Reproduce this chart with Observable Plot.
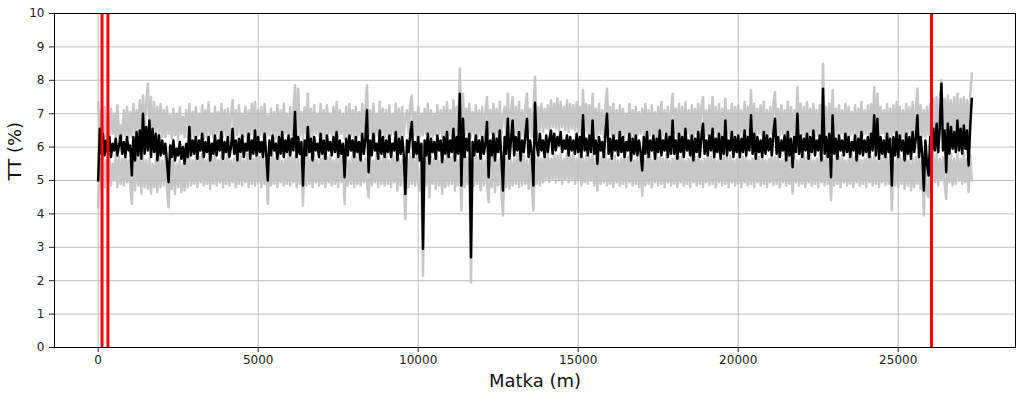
<!DOCTYPE html>
<html>
<head>
<meta charset="utf-8">
<script src="https://cdn.jsdelivr.net/npm/d3@7"></script>
<script src="https://cdn.jsdelivr.net/npm/@observablehq/plot@0.6"></script>
<style>
  html, body { margin: 0; padding: 0; background: #fff; }
  #chart { width: 1024px; height: 393px; }
</style>
</head>
<body>
<div id="chart"></div>
<script>
// sampling interval along the track (m)
const step = 50;

// black line: mean TT (%)
const ttMean = [
5.0,6.55,5.8,6.4,5.75,6.2,5.85,6.3,5.7,6.1,5.9,6.25,5.75,6.05,6.35,5.8,6.15,5.7,6.3,5.9,
6.05,5.15,6.3,5.6,6.45,5.75,6.5,5.65,7.0,5.8,6.6,5.9,6.8,5.7,6.55,5.85,6.4,5.6,6.35,5.75,
6.2,5.8,6.1,5.55,4.95,6.05,5.7,6.2,5.6,5.95,5.75,6.15,5.65,6.0,5.5,6.1,5.7,6.6,5.75,6.2,
5.8,6.3,5.65,6.2,5.9,6.4,5.7,6.15,5.85,6.3,5.6,6.1,5.8,6.35,5.75,6.2,5.9,6.45,5.65,6.15,
5.85,6.3,5.7,6.0,6.55,5.8,6.2,5.6,6.25,5.85,6.35,5.7,6.1,5.9,6.4,5.65,6.2,5.8,6.5,5.75,
6.3,5.85,6.15,5.7,6.4,5.8,5.0,6.2,5.75,6.35,5.9,6.1,5.65,6.3,5.8,6.45,5.7,6.2,5.85,6.35,
5.75,6.25,5.9,7.05,5.7,6.3,5.8,6.15,4.85,6.2,5.75,6.6,5.85,6.25,5.6,6.3,5.9,6.1,5.7,6.4,
5.8,6.2,5.65,6.35,5.9,6.15,5.75,6.3,5.85,6.45,5.7,6.2,5.8,6.1,5.1,6.25,5.75,6.35,5.9,6.2,
5.7,6.3,5.85,6.15,5.6,6.4,5.8,6.25,7.1,5.25,6.2,5.75,6.4,5.9,6.1,5.65,6.5,5.8,6.3,5.7,
6.2,5.85,6.35,5.7,6.1,5.9,6.45,5.6,6.25,5.8,6.3,5.75,4.6,6.2,5.85,6.35,6.75,5.7,6.15,5.8,
6.3,5.6,6.1,2.96,6.2,5.75,6.4,5.5,6.25,5.85,6.15,5.65,6.35,5.9,6.2,5.55,6.3,5.8,6.45,5.7,
6.2,5.85,6.55,5.6,6.3,5.8,7.6,4.85,6.85,5.7,6.25,5.9,6.4,2.7,6.15,5.75,6.35,5.85,6.2,5.65,
6.3,5.8,6.1,6.75,5.1,6.2,5.75,6.4,5.6,6.25,5.85,6.5,5.7,4.7,6.3,5.8,6.85,5.65,6.2,6.8,
5.75,6.3,5.9,6.45,5.6,6.2,5.85,6.35,6.85,5.7,6.2,5.8,4.85,7.33,6.1,5.75,6.4,5.9,6.2,5.7,
6.35,5.85,6.25,6.5,5.8,6.4,5.9,6.3,6.05,6.45,5.85,6.2,5.95,6.35,5.75,6.3,5.9,6.2,5.8,6.4,
5.85,6.3,5.7,6.95,5.9,6.25,5.75,6.35,5.85,6.8,5.8,6.2,5.5,6.3,5.9,6.15,5.7,6.4,7.0,5.8,
6.25,5.65,6.35,5.9,6.2,5.75,6.45,5.85,6.3,5.7,6.15,5.9,6.4,5.6,6.25,5.8,6.35,5.75,6.2,5.85,
5.3,6.3,5.8,6.45,5.7,6.2,5.9,6.35,5.65,6.25,5.85,6.5,5.75,6.2,5.9,6.4,5.7,6.3,5.8,6.8,
5.8,6.2,5.65,6.4,5.85,6.3,5.7,6.55,5.9,6.2,5.75,6.35,5.6,6.25,5.85,6.45,5.7,6.3,6.7,5.8,
6.2,5.75,6.35,5.9,6.55,5.7,6.25,5.85,6.4,5.65,6.3,5.8,6.8,5.75,6.2,5.9,6.45,5.7,6.3,5.85,
6.35,5.7,6.25,5.85,6.5,5.75,6.3,5.9,6.95,5.8,6.4,5.65,6.3,5.85,6.2,5.7,6.45,5.8,6.35,5.9,
6.25,5.75,6.4,6.85,5.8,6.3,5.7,6.2,5.9,6.35,5.6,6.45,5.75,6.25,5.4,6.3,5.85,7.0,5.8,6.35,
5.7,6.25,5.9,6.4,5.65,6.3,5.85,6.5,5.75,6.2,5.9,6.35,5.6,7.75,5.8,6.3,5.7,6.4,5.1,6.95,
5.8,6.25,5.65,6.35,5.9,6.2,5.75,6.4,5.85,6.3,5.7,6.15,5.9,6.35,5.6,6.25,5.8,6.45,5.75,6.2,
5.85,6.3,5.7,6.4,5.9,6.95,5.75,6.85,5.65,6.3,5.8,6.2,5.7,6.4,5.85,6.25,4.85,6.3,5.75,6.45,
5.7,6.35,5.9,6.2,5.6,6.4,5.8,6.3,5.65,6.45,5.85,6.25,6.95,5.7,6.3,5.8,4.7,6.2,5.5,5.15,
6.3,5.7,6.55,5.9,6.7,5.85,6.6,7.9,5.9,6.5,5.25,6.7,5.8,6.6,5.95,6.45,5.85,6.8,5.9,6.55,
5.8,6.65,5.95,6.5,5.45,6.6,7.45
];

// grey line: upper channel TT (%)
const ttUpper = [
7.35,6.35,7.1,6.25,7.2,6.3,6.9,6.3,7.15,6.4,7.0,6.25,7.25,6.3,6.65,6.3,7.1,6.35,7.2,6.3,
7.05,6.3,7.3,6.4,7.1,6.5,7.4,6.3,7.55,6.6,7.3,7.9,6.55,7.5,6.3,7.35,6.45,7.2,6.35,7.3,
6.3,7.1,6.3,7.2,6.4,6.95,6.25,7.15,6.35,7.0,6.2,7.2,6.4,6.9,6.3,7.1,6.3,7.3,6.35,7.05,
6.3,7.2,6.3,7.0,6.35,7.25,6.25,7.1,6.3,7.35,6.35,7.0,6.3,7.2,6.4,7.05,6.25,7.3,6.3,7.1,
6.35,7.15,6.3,7.0,7.4,6.3,7.1,6.35,7.25,6.4,7.0,6.3,7.2,6.3,7.1,6.35,7.3,6.4,7.35,6.3,
7.1,6.35,7.2,6.3,7.3,6.3,6.95,6.35,7.15,6.4,7.05,6.25,7.25,6.3,7.1,6.35,7.3,6.4,7.0,6.3,
7.2,6.35,7.1,7.85,6.3,7.75,6.35,7.05,6.25,7.2,6.4,7.6,6.3,7.15,6.3,7.25,6.4,7.0,6.35,7.3,
6.3,7.1,6.3,7.25,6.4,7.0,6.35,7.2,6.3,7.35,6.3,7.1,6.4,7.0,6.25,7.2,6.3,7.3,6.35,7.1,
6.3,7.2,6.3,7.05,6.35,7.3,6.4,7.15,7.85,6.35,7.1,6.3,7.3,6.3,7.0,6.35,7.35,6.4,7.15,6.3,
7.1,6.3,7.25,6.35,7.0,6.4,7.3,6.3,7.15,6.3,7.2,6.35,6.9,7.1,6.4,7.25,7.55,6.35,7.05,6.3,
7.2,6.3,7.0,6.35,7.15,6.4,7.3,6.25,7.1,6.3,7.0,6.35,7.25,6.4,7.1,6.3,7.2,6.3,7.35,6.35,
7.1,6.3,7.4,6.35,7.2,6.3,8.35,6.4,7.6,6.35,7.15,6.3,7.3,6.3,7.05,6.4,7.25,6.3,7.1,6.35,
7.2,6.3,7.05,7.5,6.35,7.1,6.4,7.3,6.3,7.15,6.3,7.35,6.35,6.95,7.2,6.3,7.6,6.35,7.1,7.5,
6.3,7.2,6.4,7.35,6.35,7.1,6.3,7.25,7.6,6.4,7.15,6.3,7.0,8.1,6.3,7.2,6.5,7.3,6.45,7.15,
6.55,7.25,6.5,7.4,6.6,7.3,6.55,7.45,6.5,7.35,6.6,7.2,6.5,7.4,6.45,7.3,6.55,7.25,6.5,7.35,
6.45,7.2,6.3,7.7,6.45,7.3,6.4,7.25,6.3,7.6,6.35,7.15,6.3,7.3,6.4,7.1,6.3,7.25,7.75,6.4,
7.2,6.35,7.3,6.3,7.1,6.3,7.25,6.4,7.15,6.3,7.0,6.35,7.3,6.3,7.1,6.3,7.2,6.35,7.05,6.4,
7.15,6.3,7.3,6.3,7.1,6.35,7.25,6.4,7.05,6.3,7.2,6.3,7.35,6.35,7.1,6.4,7.2,6.3,7.05,7.6,
6.4,7.15,6.3,7.3,6.3,7.2,6.35,7.35,6.4,7.1,6.3,7.25,6.3,7.15,6.4,7.3,6.35,7.2,7.5,6.3,
7.1,6.35,7.25,6.3,7.5,6.4,7.2,6.3,7.3,6.3,7.15,6.35,7.45,6.4,7.1,6.3,7.3,6.35,7.2,6.4,
7.25,6.35,7.1,6.3,7.35,6.35,7.2,6.4,7.7,6.3,7.3,6.3,7.15,6.4,7.25,6.35,7.35,6.3,7.1,6.35,
7.2,6.4,7.3,7.65,6.3,7.15,6.35,7.25,6.4,7.1,6.3,7.35,6.3,7.2,6.35,7.1,6.3,7.8,6.4,7.3,
6.35,7.2,6.3,7.35,6.3,7.15,6.4,7.3,6.3,7.1,6.35,7.25,6.4,8.5,6.3,7.2,6.35,7.3,6.4,7.7,
6.3,7.15,6.35,7.25,6.4,7.1,6.3,7.3,6.3,7.2,6.35,7.05,6.4,7.25,6.3,7.15,6.3,7.35,6.35,7.1,
6.4,7.25,6.35,7.3,6.3,7.8,6.4,7.6,6.35,7.2,6.4,7.1,6.3,7.3,6.3,7.15,6.35,7.25,6.4,7.35,
6.35,7.2,6.3,7.1,6.3,7.3,6.4,7.2,6.35,7.35,6.3,7.15,7.75,6.35,7.25,6.3,7.1,6.3,7.2,6.35,
7.3,6.45,7.45,6.5,7.5,6.45,7.4,8.0,6.5,7.45,6.4,7.55,6.5,7.4,6.45,7.5,6.5,7.6,6.45,7.45,
6.5,7.5,6.45,7.4,6.4,7.55,8.2
];

// grey line: lower channel TT (%)
const ttLower = [
4.2,5.65,4.9,5.8,4.8,5.6,4.95,5.75,4.85,5.5,5.0,5.8,4.8,5.7,4.9,5.65,4.85,5.8,4.95,5.6,
4.85,4.3,5.65,4.7,5.8,4.85,5.7,4.6,5.75,4.8,5.6,4.75,5.65,4.6,5.5,4.8,5.65,4.65,5.7,4.8,
5.6,4.85,5.75,4.7,4.2,5.65,4.75,5.6,4.6,5.5,4.8,5.65,4.65,5.5,4.7,5.7,4.8,5.8,4.85,5.6,
4.9,5.75,4.8,5.7,4.95,5.8,4.85,5.6,4.9,5.65,4.75,5.7,4.9,5.8,4.85,5.6,4.95,5.75,4.8,5.65,
4.9,5.8,4.85,5.6,4.95,5.65,4.8,5.7,4.9,5.75,4.85,5.6,4.95,5.8,4.8,5.7,4.9,5.65,4.85,5.8,
4.95,5.7,4.8,5.75,4.9,5.6,4.3,5.65,4.85,5.8,4.9,5.7,4.8,5.75,4.95,5.6,4.85,5.65,4.9,5.8,
4.85,5.7,4.95,5.75,4.8,5.65,4.9,5.6,4.25,5.65,4.85,5.8,4.9,5.7,4.8,5.75,4.95,5.6,4.85,5.65,
4.9,5.8,4.8,5.7,4.95,5.75,4.85,5.6,4.9,5.65,4.8,5.8,4.95,5.7,4.3,5.65,4.85,5.6,4.9,5.75,
4.8,5.7,4.9,5.8,4.85,5.6,4.95,5.65,4.9,4.5,5.75,4.85,5.6,4.95,5.8,4.8,5.7,4.9,5.65,4.85,
5.8,4.9,5.6,4.8,5.75,4.95,5.7,4.7,5.65,4.85,5.6,4.9,3.85,5.65,4.8,5.8,4.9,5.7,4.85,5.75,
4.9,4.7,5.7,2.15,5.65,4.85,5.8,4.5,5.7,4.9,5.65,4.75,5.75,4.85,5.6,4.6,5.65,4.8,5.8,4.85,
5.7,4.9,5.75,4.7,5.6,4.85,5.65,4.1,5.8,4.8,5.7,4.9,5.65,1.95,5.6,4.85,5.75,4.9,5.7,4.7,
5.65,4.85,5.6,4.9,4.35,5.7,4.8,5.75,4.65,5.6,4.85,5.65,4.7,3.95,5.7,4.8,5.75,4.75,5.6,4.85,
5.65,4.9,5.8,4.8,5.7,4.85,5.75,4.9,5.6,4.75,5.65,4.85,4.1,5.7,4.9,5.8,4.85,5.65,4.95,5.7,
5.0,5.8,4.95,5.65,5.05,5.8,4.95,5.75,5.0,5.8,4.9,5.65,5.05,5.8,4.95,5.75,5.0,5.8,4.9,5.65,
5.0,5.8,4.85,5.65,4.95,5.75,4.9,5.7,5.0,5.8,4.85,5.65,4.7,5.75,4.9,5.7,4.95,5.8,4.85,5.65,
4.9,5.7,4.8,5.75,4.95,5.6,4.85,5.65,4.9,5.8,4.8,5.7,4.95,5.75,4.85,5.6,4.9,5.65,4.8,5.8,
4.55,5.65,4.85,5.7,4.9,5.75,4.8,5.6,4.95,5.8,4.85,5.7,4.9,5.65,4.8,5.75,4.95,5.6,4.85,5.65,
4.9,5.8,4.8,5.7,4.95,5.75,4.85,5.6,4.9,5.65,4.8,5.8,4.95,5.7,4.85,5.75,4.9,5.6,4.8,5.65,
4.95,5.8,4.85,5.7,4.9,5.75,4.8,5.6,4.95,5.65,4.85,5.8,4.9,5.7,4.8,5.75,4.95,5.6,4.85,5.65,
4.9,5.8,4.8,5.7,4.95,5.75,4.85,5.6,4.9,5.65,4.8,5.8,4.95,5.7,4.85,5.75,4.9,5.6,4.8,5.65,
4.95,5.8,4.85,5.7,4.9,5.75,4.8,5.6,4.95,5.65,4.85,5.8,4.9,5.7,4.6,5.75,4.95,5.6,4.85,5.65,
4.9,5.8,4.8,5.7,4.95,5.75,4.85,5.6,4.9,5.65,4.8,5.8,4.95,5.7,4.85,5.75,4.9,5.6,4.4,5.65,
4.85,5.8,4.9,5.7,4.8,5.75,4.95,5.6,4.85,5.65,4.9,5.8,4.8,5.7,4.95,5.75,4.85,5.6,4.9,5.65,
4.8,5.8,4.95,5.7,4.85,5.75,4.9,5.6,4.8,5.65,4.95,5.8,4.85,5.7,4.9,5.75,4.1,5.6,4.85,5.65,
4.8,5.75,4.9,5.7,4.75,5.8,4.85,5.6,4.7,5.65,4.8,5.7,4.9,5.75,4.75,5.6,3.95,5.65,4.6,4.5,
5.6,4.9,5.75,4.95,5.8,4.85,5.65,5.0,5.7,4.9,4.45,5.75,4.95,5.8,4.85,5.65,4.9,5.8,5.0,5.65,
4.9,5.8,4.95,5.65,4.65,5.75,5.0
];

// red vertical markers (m)
const redMarks = [120, 305, 26040];

// tick values
const xTicks = [0, 5000, 10000, 15000, 20000, 25000];
const yTicks = [0, 1, 2, 3, 4, 5, 6, 7, 8, 9, 10];

const xLabel = "Matka (m)";
const yLabel = "TT (%)";

const toRows = arr => arr.map((v, i) => ({ m: i * step, tt: v }));
const meanRows = toRows(ttMean);
const upperRows = toRows(ttUpper);
const lowerRows = toRows(ttLower);

const chart = Plot.plot({
  width: 1024,
  height: 393,
  marginLeft: 54,
  marginRight: 9,
  marginTop: 13,
  marginBottom: 46,
  style: { fontFamily: "DejaVu Sans, sans-serif", background: "#fff", color: "#222" },
  x: { domain: [-1365, 28665] },
  y: { domain: [0, 10] },
  marks: [
    Plot.gridX(xTicks, { stroke: "#b0b0b0", strokeOpacity: 0.8, strokeWidth: 1 }),
    Plot.gridY(yTicks, { stroke: "#b0b0b0", strokeOpacity: 0.8, strokeWidth: 1 }),
    Plot.line(upperRows, { x: "m", y: "tt", stroke: "#bdbdbd", strokeOpacity: 0.85, strokeWidth: 2.5 }),
    Plot.line(lowerRows, { x: "m", y: "tt", stroke: "#bdbdbd", strokeOpacity: 0.85, strokeWidth: 2.5 }),
    Plot.line(meanRows, { x: "m", y: "tt", stroke: "#000", strokeWidth: 2.5 }),
    Plot.ruleX(redMarks, { stroke: "#ff0000", strokeWidth: 3 }),
    Plot.frame({ stroke: "#000", strokeWidth: 1 }),
    Plot.axisX(xTicks, { tickSize: 5, tickPadding: 3, fontSize: 12, label: null, stroke: "#222", tickFormat: d => String(d) }),
    Plot.axisY(yTicks, { tickSize: 5, tickPadding: 5, fontSize: 12, label: null, stroke: "#222" }),
    Plot.text([xLabel], { frameAnchor: "bottom", dy: 34, fontSize: 18, fill: "#111", lineAnchor: "middle" }),
    Plot.text([yLabel], { frameAnchor: "left", dx: -39, rotate: -90, fontSize: 18, fill: "#111", lineAnchor: "middle" })
  ]
});
document.getElementById("chart").appendChild(chart);
</script>
</body>
</html>
